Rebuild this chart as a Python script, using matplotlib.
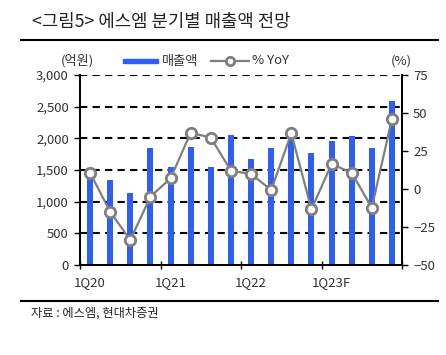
import matplotlib

matplotlib.use("Agg")
import matplotlib.pyplot as plt
from matplotlib.lines import Line2D
from matplotlib.patches import Rectangle

plt.rcParams["font.family"] = ["Noto Sans CJK KR", "DejaVu Sans"]

quarters = [f"{q}Q{y}" for y in ("20", "21", "22", "23F") for q in (1, 2, 3, 4)]
sales = [1420, 1350, 1140, 1840, 1540, 1870, 1540, 2060,
         1680, 1840, 2060, 1770, 1960, 2030, 1840, 2590]
yoy = [10.7, -15.0, -33.6, -5.0, 7.0, 37.0, 33.8, 12.0,
       9.9, -0.7, 36.6, -13.4, 16.4, 10.7, -12.3, 46.2]
year_labels = ["1Q20", "1Q21", "1Q22", "1Q23F"]

BLUE = "#2F5EF2"
GREY = "#7F7F7F"
TXT = "#333333"

fig = plt.figure(figsize=(4.46, 3.55), dpi=100)
ax = fig.add_axes([80 / 446, 90 / 355, 322 / 446, 190 / 355])
ax2 = ax.twinx()

x = list(range(len(quarters)))
ax.bar(x, sales, width=0.3, color=BLUE, zorder=2)
ax.set_xlim(-0.5, len(quarters) - 0.5)
ax.set_ylim(0, 3000)
ax.set_yticks(range(0, 3001, 500))
ax.set_yticklabels([f"{v:,}" for v in range(0, 3001, 500)])
for v in range(500, 3001, 500):
    ax.axhline(v, color="black", lw=1.5, ls=(0, (3.5, 2.5)), zorder=1)

ax2.plot(x, yoy, color=GREY, lw=1.6, marker="o", ms=7.5, mfc="white",
         mec=GREY, mew=2, zorder=3)
ax2.set_ylim(-50, 75)
ax2.set_yticks(range(-50, 76, 25))

# x ticks at year boundaries, labels under first quarter of each year
ax.set_xticks([-0.5, 3.5, 7.5, 11.5, 15.5])
ax.set_xticklabels([])
ax.tick_params(axis="x", direction="inout", length=6, width=1, color="black")
for i, lab in zip([0, 4, 8, 12], year_labels):
    ax.text(i, -0.06, lab, transform=ax.get_xaxis_transform(), ha="center",
            va="top", fontsize=9.5, color=TXT)

ax.tick_params(axis="y", direction="out", length=4, width=1, labelsize=9.5,
               labelcolor=TXT, pad=4)
ax2.tick_params(axis="y", direction="out", length=4, width=1, labelsize=9.5,
                labelcolor=TXT, pad=4)

for a in (ax, ax2):
    a.spines["top"].set_visible(False)
    for s in ("left", "right", "bottom"):
        a.spines[s].set_linewidth(1.3)
        a.spines[s].set_color("black")

# title and rules
fig.text(32 / 446, 1 - 22 / 355, "<그림5> 에스엠 분기별 매출액 전망", fontsize=12.8,
         color="#222222", va="center", ha="left")
fig.add_artist(Line2D([21 / 446, 438 / 446], [1 - 39.5 / 355] * 2,
                      color="black", lw=1.5))
fig.add_artist(Line2D([21 / 446, 438 / 446], [1 - 301 / 355] * 2,
                      color="black", lw=1.5))
fig.text(31 / 446, 1 - 313 / 355, "자료 : 에스엠, 현대차증권", fontsize=8.8,
         color="#222222", va="center", ha="left")

# unit labels and legend
fig.text(77 / 446, 1 - 61 / 355, "(억원)", fontsize=9.5, color=TXT,
         ha="center", va="center")
fig.text(401 / 446, 1 - 61 / 355, "(%)", fontsize=9.5, color=TXT,
         ha="center", va="center")
fig.add_artist(Rectangle((123 / 446, 1 - 63 / 355), 35 / 446, 4 / 355,
                         color=BLUE, transform=fig.transFigure))
fig.text(162 / 446, 1 - 61 / 355, "매출액", fontsize=9.5, color=TXT,
         ha="left", va="center")
fig.add_artist(Line2D([211 / 446, 249 / 446], [1 - 61 / 355] * 2,
                      color=GREY, lw=1.6, transform=fig.transFigure))
fig.add_artist(Line2D([230 / 446], [1 - 61 / 355], color=GREY, marker="o",
                      ms=6, mfc="white", mec=GREY, mew=2,
                      transform=fig.transFigure))
fig.text(252 / 446, 1 - 61 / 355, "% YoY", fontsize=9.5, color=TXT,
         ha="left", va="center")

fig.savefig("out.png", dpi=100)
